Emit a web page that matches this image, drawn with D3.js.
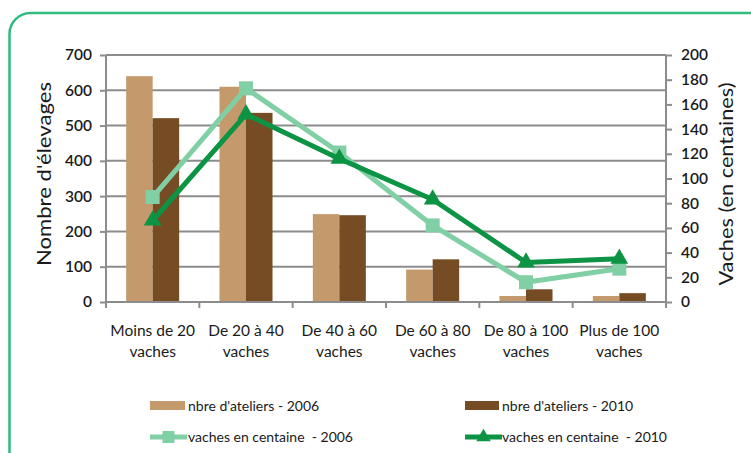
<!DOCTYPE html>
<html><head><meta charset="utf-8">
<script src="https://cdn.jsdelivr.net/npm/d3@7"></script>
<style>
html,body{margin:0;padding:0;background:#fff;}
svg{display:block;}
text{font-family:Lato,"Open Sans",sans-serif;fill:#1a1a1a;white-space:pre;}
</style></head>
<body><svg id="c" width="751" height="453"></svg>
<script>
const categories = ["Moins de 20|vaches","De 20 à 40|vaches","De 40 à 60|vaches","De 60 à 80|vaches","De 80 à 100|vaches","Plus de 100|vaches"];
const ateliers2006 = [640, 610, 249, 92, 17, 17];
const ateliers2010 = [521, 536, 246, 121, 36, 25];
const vaches2006 = [85, 173, 121, 62, 16, 27];
const vaches2010 = [66, 152, 116, 83, 32, 35];
const leftTicks = [0,100,200,300,400,500,600,700];
const rightTicks = [0,20,40,60,80,100,120,140,160,180,200];
const legendLabels = ["nbre d'ateliers - 2006","nbre d'ateliers - 2010","vaches en centaine  - 2006","vaches en centaine  - 2010"];

const C = {bar06:"#c49a6c", bar10:"#754c24", l06:"#80cfa5", l10:"#0c9444", grid:"#8c8c8c", frame:"#2fbb80"};
const svg = d3.select("#c");
const L = 106, R = 666, T = 55, B = 302;

svg.append("rect").attr("x",9.5).attr("y",13).attr("width",770).attr("height",470)
  .attr("rx",21).attr("fill","none").attr("stroke",C.frame).attr("stroke-width",2.5);

const x = d3.scaleBand().domain(categories).range([L,R]);
const bw = x.bandwidth()*0.284;
const yL = d3.scaleLinear().domain([0,700]).range([B,T]);
const yR = d3.scaleLinear().domain([0,200]).range([B,T]);

svg.append("g").selectAll("line").data(leftTicks.slice(1)).join("line")
  .attr("x1",L).attr("x2",R).attr("y1",d=>yL(d)).attr("y2",d=>yL(d))
  .attr("stroke",C.grid).attr("stroke-width",2);

const cx = c => x(c)+x.bandwidth()/2;
svg.append("g").selectAll("rect").data(categories).join("rect")
  .attr("x",c=>cx(c)-bw).attr("width",bw)
  .attr("y",(c,i)=>yL(ateliers2006[i])).attr("height",(c,i)=>B-yL(ateliers2006[i]))
  .attr("fill",C.bar06);
svg.append("g").selectAll("rect").data(categories).join("rect")
  .attr("x",c=>cx(c)).attr("width",bw)
  .attr("y",(c,i)=>yL(ateliers2010[i])).attr("height",(c,i)=>B-yL(ateliers2010[i]))
  .attr("fill",C.bar10);

const axL = d3.axisLeft(yL).tickValues(leftTicks).tickSize(6).tickPadding(8).tickFormat(d3.format("d"));
const gL = svg.append("g").attr("transform",`translate(${L},0)`).call(axL);
const axR = d3.axisRight(yR).tickValues(rightTicks).tickSize(6).tickPadding(9).tickFormat(d3.format("d"));
const gR = svg.append("g").attr("transform",`translate(${R},0)`).call(axR);
const axB = d3.axisBottom(x).tickSize(0).tickFormat("");
const gB = svg.append("g").attr("transform",`translate(0,${B})`).call(axB);
gB.append("g").selectAll("line").data(categories.map(c=>x(c)).concat([R])).join("line")
  .attr("x1",d=>d).attr("x2",d=>d).attr("y1",0).attr("y2",6).attr("stroke",C.grid).attr("stroke-width",2);
[gL,gR,gB].forEach(g=>{
  g.select(".domain").attr("stroke",C.grid).attr("stroke-width",2);
  g.selectAll(".tick line").attr("stroke",C.grid).attr("stroke-width",2);
  g.selectAll(".tick text").attr("font-size",15.5).attr("font-family","Lato").attr("fill","#1a1a1a").attr("font-weight",600);
});
gB.select(".domain").attr("d",`M${L},0H${R}`);
gL.select(".domain").attr("d",`M0,${B}V${T}`);
gR.select(".domain").attr("d",`M0,${B}V${T}`);

const xl = svg.append("g").selectAll("text").data(categories).join("text")
  .attr("x",cx).attr("y",336).attr("text-anchor","middle").attr("font-size",15.5);
xl.selectAll("tspan").data(c=>c.split("|").map(t=>[c,t])).join("tspan")
  .attr("x",d=>cx(d[0])).attr("dy",(d,i)=>i?21:0).text(d=>d[1]);

const line = (vals)=>d3.line().x((d,i)=>cx(categories[i])).y(d=>yR(d))(vals);
svg.append("path").attr("d",line(vaches2006)).attr("fill","none").attr("stroke",C.l06).attr("stroke-width",5).attr("stroke-linejoin","round");
svg.append("g").selectAll("rect").data(vaches2006).join("rect")
  .attr("x",(d,i)=>cx(categories[i])-7).attr("y",d=>yR(d)-7).attr("width",14).attr("height",14).attr("fill",C.l06);
svg.append("path").attr("d",line(vaches2010)).attr("fill","none").attr("stroke",C.l10).attr("stroke-width",5).attr("stroke-linejoin","round");
const tri = d3.symbol().type(d3.symbolTriangle).size(135);
svg.append("g").selectAll("path").data(vaches2010).join("path")
  .attr("transform",(d,i)=>`translate(${cx(categories[i])},${yR(d)})`).attr("d",tri()).attr("fill",C.l10);

svg.append("text").attr("transform","translate(51,174) rotate(-90)").attr("text-anchor","middle")
  .attr("font-size",20).attr("textLength",184).attr("lengthAdjust","spacingAndGlyphs").text("Nombre d'élevages");
svg.append("text").attr("transform","translate(733,184) rotate(-90)").attr("text-anchor","middle")
  .attr("font-size",20).attr("textLength",203).attr("lengthAdjust","spacingAndGlyphs").text("Vaches (en centaines)");

const lg = svg.append("g");
const legPos = [[150,406],[465,406],[150,437],[465,437]];
lg.append("rect").attr("x",legPos[0][0]).attr("y",legPos[0][1]-5).attr("width",35).attr("height",9).attr("fill",C.bar06);
lg.append("rect").attr("x",legPos[1][0]).attr("y",legPos[1][1]-5).attr("width",34).attr("height",9).attr("fill",C.bar10);
[[2,C.l06,"sq"],[3,C.l10,"tri"]].forEach(([k,col,m])=>{
  const [px,py]=legPos[k];
  lg.append("line").attr("x1",px).attr("x2",px+37).attr("y1",py).attr("y2",py).attr("stroke",col).attr("stroke-width",5);
  if(m==="sq") lg.append("rect").attr("x",px+18.5-6).attr("y",py-6).attr("width",12).attr("height",12).attr("fill",col);
  else lg.append("path").attr("transform",`translate(${px+18.5},${py})`).attr("d",d3.symbol().type(d3.symbolTriangle).size(90)()).attr("fill",col);
});
lg.selectAll("text").data(legendLabels).join("text")
  .attr("x",(d,i)=>legPos[i][0]+(i%2?37:38)).attr("y",(d,i)=>legPos[i][1]+5)
  .attr("font-size",14).text(d=>d);
</script></body></html>
